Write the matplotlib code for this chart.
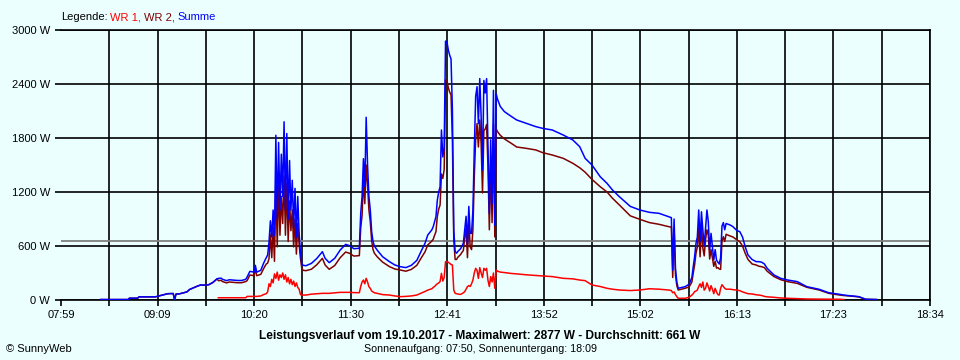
import numpy as np
import matplotlib
matplotlib.use('Agg')
import matplotlib.pyplot as plt
from matplotlib.offsetbox import TextArea, HPacker, AnchoredOffsetbox

nan = np.nan

# Messzeitpunkte (hh:mm) und Leistung in W
zeit = ['08:28', '08:48', '08:49', '08:55', '08:56', '09:08', '09:13', '09:17', '09:21', '09:22',
        '09:23', '09:26', '09:31', '09:33', '09:38', '09:41', '09:44', '09:47', '09:50', '09:53',
        '09:54', '09:56', '09:57', '10:00', '10:02', '10:08', '10:11', '10:14', '10:15', '10:17',
        '10:20', '10:21', '10:22', '10:25', '10:27', '10:28', '10:29', '10:30', '10:31', '10:32',
        '10:33', '10:34', '10:35', '10:36', '10:37', '10:38', '10:39', '10:40', '10:41', '10:42',
        '10:43', '10:44', '10:45', '10:46', '10:47', '10:48', '10:49', '10:50', '10:51', '10:52',
        '10:53', '10:54', '10:55', '10:56', '10:58', '11:02', '11:06', '11:10', '11:12', '11:15',
        '11:19', '11:23', '11:27', '11:30', '11:33', '11:37', '11:38', '11:39', '11:40', '11:41',
        '11:42', '11:43', '11:44', '11:45', '11:46', '11:47', '11:48', '11:50', '11:54', '11:59',
        '12:03', '12:07', '12:11', '12:15', '12:19', '12:22', '12:25', '12:27', '12:30', '12:31',
        '12:32', '12:33', '12:34', '12:35', '12:36', '12:37', '12:38', '12:39', '12:40', '12:41',
        '12:42', '12:43', '12:44', '12:45', '12:46', '12:47', '12:48', '12:49', '12:50', '12:51',
        '12:52', '12:53', '12:54', '12:55', '12:56', '12:57', '12:58', '12:59', '13:00', '13:01',
        '13:02', '13:03', '13:04', '13:05', '13:06', '13:07', '13:08', '13:09', '13:10', '13:11',
        '13:12', '13:13', '13:14', '13:15', '13:16', '13:17', '13:18', '13:20', '13:23', '13:28',
        '13:32', '13:39', '13:46', '13:51', '13:58', '14:06', '14:13', '14:18', '14:22', '14:27',
        '14:33', '14:38', '14:42', '14:47', '14:55', '15:02', '15:09', '15:16', '15:23', '15:25',
        '15:26', '15:27', '15:28', '15:29', '15:30', '15:35', '15:38', '15:40', '15:41', '15:42',
        '15:43', '15:44', '15:45', '15:46', '15:47', '15:48', '15:49', '15:50', '15:51', '15:52',
        '15:53', '15:54', '15:55', '15:56', '15:57', '15:58', '15:59', '16:00', '16:01', '16:02',
        '16:03', '16:04', '16:05', '16:08', '16:10', '16:13', '16:15', '16:17', '16:19', '16:21',
        '16:24', '16:27', '16:29', '16:31', '16:33', '16:35', '16:40', '16:45', '16:50', '16:57',
        '17:04', '17:13', '17:20', '17:28', '17:31', '17:35', '17:42', '17:45', '17:47', '17:55']

summe = [5, 5, 20, 20, 35, 35, 55, 70, 72, 0,
         65, 70, 90, 117, 150, 167, 165, 170, 195, 235,
         240, 243, 230, 215, 225, 217, 217, 230, 255, 318,
         310, 385, 310, 330, 407, 440, 470, 500, 640, 880,
         700, 1000, 720, 1830, 900, 1750, 1000, 1620, 1150, 1980,
         1000, 1850, 900, 1550, 1000, 1330, 800, 1240, 700, 1150,
         740, 520, 400, 385, 381, 407, 463, 537, 463, 415,
         463, 555, 618, 603, 570, 574, 960, 1150, 1570, 1260,
         2030, 1500, 1150, 1000, 760, 650, 600, 555, 481, 426,
         389, 370, 360, 385, 440, 537, 630, 722, 780, 815,
         870, 926, 1111, 1200, 1259, 1889, 1590, 1700, 2877, 2870,
         2780, 2720, 2680, 2110, 780, 540, 520, 540, 555, 570,
         600, 630, 780, 930, 620, 1040, 740, 740, 1000, 1670,
         2260, 2370, 1960, 2460, 2040, 1444, 2440, 2300, 2460, 1700,
         960, 1780, 1070, 2330, 830, 2290, 2230, 2150, 2093, 2040,
         2000, 1963, 1926, 1907, 1889, 1833, 1778, 1704, 1574, 1500,
         1370, 1296, 1222, 1148, 1040, 1000, 974, 963, 926, 915,
         330, 900, 350, 200, 130, 148, 175, 250, 370, 480,
         630, 700, 1000, 650, 980, 780, 600, 800, 1000, 870,
         555, 740, 590, 444, 560, 444, 420, 400, 470, 820,
         860, 780, 850, 833, 815, 770, 760, 700, 590, 500,
         450, 426, 426, 420, 400, 352, 278, 240, 222, 204,
         148, 119, 81, 63, 55, 48, 37, 20, 8, 5]

wr1 = [nan, nan, nan, nan, nan, nan, nan, nan, nan, nan,
       nan, nan, nan, nan, nan, nan, nan, nan, nan, nan,
       25, 25, 25, 25, 25, 25, 25, 25, 40, 40,
       40, 40, 40, 45, 60, 65, 70, 90, 180, 150,
       230, 190, 290, 240, 310, 220, 280, 250, 300, 230,
       280, 200, 250, 180, 230, 170, 210, 150, 190, 140,
       120, 60, 55, 55, 55, 65, 70, 74, 74, 74,
       80, 85, 85, 85, 82, 81, 150, 200, 222, 180,
       241, 200, 148, 130, 100, 90, 80, 74, 60, 55,
       45, 37, 40, 45, 55, 75, 95, 110, 125, 140,
       150, 167, 180, 190, 204, 296, 210, 250, 426, 426,
       420, 407, 395, 389, 111, 74, 70, 65, 63, 63,
       70, 80, 93, 120, 148, 160, 150, 180, 222, 300,
       352, 330, 240, 360, 300, 250, 352, 330, 352, 220,
       150, 260, 200, 300, 130, 333, 320, 310, 305, 295,
       290, 280, 272, 267, 260, 241, 235, 222, 215, 167,
       150, 130, 120, 111, 105, 111, 125, 120, 111, 105,
       80, 90, 60, 37, 19, 19, 30, 55, 70, 93,
       100, 111, 150, 180, 140, 200, 110, 130, 190, 150,
       100, 160, 120, 70, 130, 90, 60, 55, 130, 170,
       150, 130, 120, 120, 115, 110, 104, 90, 80, 70,
       67, 58, 55, 50, 40, 35, 30, 22, 19, 15,
       11, 10, 8, 8, 5, nan, nan, nan, nan, nan]

wr2 = [5, 5, 20, 20, 35, 35, 55, 70, 72, 0,
       65, 70, 90, 117, 150, 167, 165, 170, 195, 235,
       215, 218, 205, 190, 200, 192, 192, 205, 215, 278,
       270, 345, 270, 285, 347, 375, 400, 410, 460, 730,
       470, 810, 430, 1350, 590, 1300, 720, 1150, 850, 1380,
       720, 1300, 650, 1100, 770, 1000, 590, 900, 510, 850,
       620, 460, 345, 330, 326, 342, 393, 463, 389, 341,
       383, 470, 533, 518, 488, 493, 800, 940, 1340, 1070,
       1500, 1280, 1000, 870, 660, 560, 520, 481, 421, 371,
       344, 333, 320, 340, 385, 462, 535, 612, 655, 675,
       720, 759, 931, 1010, 1055, 1400, 1350, 1450, 2444, 2440,
       2360, 2310, 2280, 1780, 667, 450, 450, 475, 490, 505,
       530, 550, 690, 800, 470, 880, 590, 560, 780, 1370,
       1780, 1960, 1700, 2000, 1740, 1190, 1880, 1900, 1950, 1480,
       780, 1500, 860, 1950, 700, 1900, 1870, 1830, 1790, 1741,
       1700, 1685, 1667, 1637, 1611, 1574, 1519, 1470, 1420, 1340,
       1259, 1200, 1130, 1056, 935, 896, 860, 841, 815, 810,
       250, 800, 280, 160, 111, 130, 145, 200, 300, 390,
       520, 590, 800, 480, 830, 580, 490, 670, 780, 720,
       455, 560, 470, 374, 430, 354, 360, 345, 340, 650,
       703, 650, 730, 711, 700, 667, 648, 600, 518, 450,
       400, 389, 375, 370, 360, 320, 260, 225, 204, 185,
       141, 111, 74, 55, 50, 45, 35, 18, 8, 5]

durchschnitt = 661
maximum = 2877
x_labels = ['07:59', '09:09', '10:20', '11:30', '12:41', '13:52', '15:02', '16:13', '17:23', '18:34']
y_ticks = [0, 600, 1200, 1800, 2400, 3000]

bg = '#ECFFFF'
plt.rcParams['font.family'] = ['Liberation Sans', 'DejaVu Sans']
plt.rcParams['font.size'] = 8


def minuten(s):
    h, m = s.split(':')
    return int(h) * 60 + int(m)


t = np.array([minuten(z) for z in zeit])

fig = plt.figure(figsize=(9.6, 3.6), dpi=100, facecolor=bg)
ax = fig.add_axes([61 / 960, 60 / 360, 869 / 960, 270 / 360], facecolor=bg)

ax.plot(t, wr1, color='#FF0000', lw=1.1, zorder=3)
ax.plot(t, wr2, color='#800000', lw=1.1, zorder=4)
ax.plot(t, summe, color='#0000FF', lw=1.1, zorder=5)
ax.axhline(durchschnitt, color='#808080', lw=1.3, zorder=2)

t0 = minuten(x_labels[0])
t1 = minuten(x_labels[-1])
ax.set_xlim(t0, t1)
ax.set_ylim(0, 3000)

xt = np.linspace(t0, t1, 2 * len(x_labels) - 1)
ax.set_xticks(xt)
lab = []
for i in range(len(xt)):
    lab.append(x_labels[i // 2] if i % 2 == 0 else '')
ax.set_xticklabels(lab)
ax.set_yticks(y_ticks)
ax.set_yticklabels([str(v) + ' W' for v in y_ticks])

ax.grid(True, color='black', lw=1.2, zorder=1)
ax.get_xgridlines()[0].set_visible(False)
ax.tick_params(axis='x', length=4, width=1.2, pad=3, colors='black')
ax.tick_params(axis='y', length=4, width=1.2, pad=4, colors='black')

ax.spines['left'].set_visible(False)
for s in ['top', 'right', 'bottom']:
    ax.spines[s].set_linewidth(1.2)

# Legende oben links
teile = [('Legende:', 'black'), ('WR 1,', '#FF0000'), ('WR 2,', '#800000'), ('Summe', '#0000FF')]
boxes = [TextArea(s, textprops=dict(color=c, fontsize=8)) for s, c in teile]
pack = HPacker(children=boxes, align='baseline', pad=0, sep=2)
box = AnchoredOffsetbox(loc='center left', child=pack, pad=0, borderpad=0, frameon=False,
                        bbox_to_anchor=(61 / 960, 1 - 17 / 360), bbox_transform=fig.transFigure)
fig.add_artist(box)

fig.text(0.5, 1 - 336 / 360,
         'Leistungsverlauf vom 19.10.2017 - Maximalwert: %d W - Durchschnitt: %d W' % (maximum, durchschnitt),
         ha='center', va='center', fontweight='bold', fontsize=8.6)
fig.text(0.5, 1 - 349 / 360, 'Sonnenaufgang: 07:50, Sonnenuntergang: 18:09',
         ha='center', va='center', fontsize=7.7)
fig.text(6 / 960, 1 - 349 / 360, '\u00a9 SunnyWeb', ha='left', va='center', fontsize=8)

fig.savefig('out.png', dpi=100, facecolor=bg)
